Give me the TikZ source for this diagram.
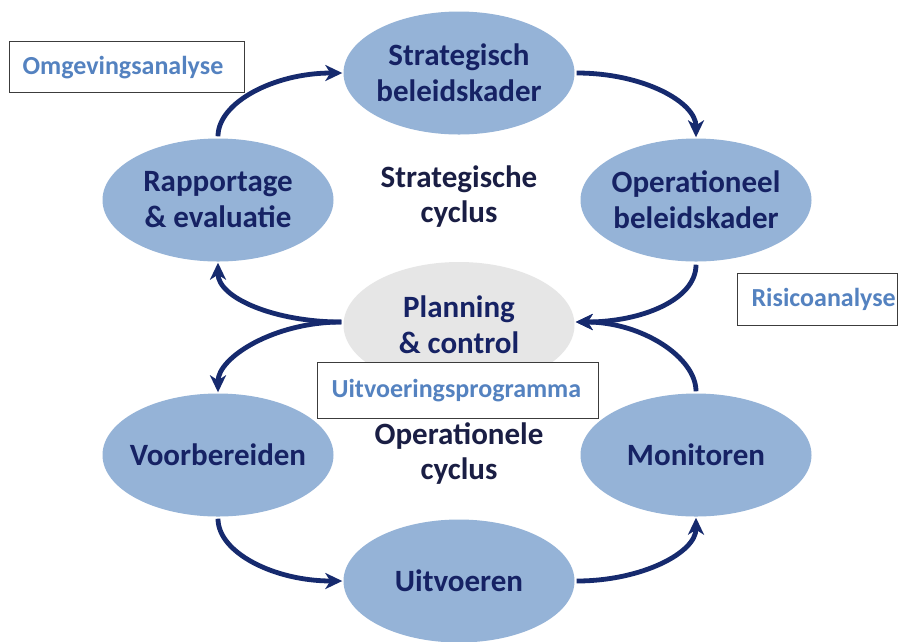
\documentclass[tikz,border=0pt]{standalone}
\usepackage{fontspec}
\setmainfont{Carlito}
\usetikzlibrary{shapes.geometric,arrows.meta}
\definecolor{ellfill}{RGB}{149,179,215}
\definecolor{navytext}{RGB}{22,34,100}
\definecolor{cycletext}{RGB}{26,30,68}
\definecolor{arrowcol}{RGB}{22,42,110}
\definecolor{boxtext}{RGB}{84,130,192}
\definecolor{boxline}{RGB}{60,60,60}
\definecolor{pcfill}{RGB}{230,230,230}
\begin{document}
\begin{tikzpicture}[x=1pt,y=-1pt,
  phase/.style={ellipse, fill=ellfill, minimum width=231pt, minimum height=123pt,
    inner xsep=-25pt, inner ysep=0pt, align=center, text=navytext, font=\fontsize{31}{36}\selectfont\bfseries},
  pcnode/.style={phase, fill=pcfill, minimum height=126pt},
  cyclelabel/.style={align=center, text=cycletext, font=\fontsize{31}{35}\selectfont\bfseries, inner sep=0pt},
  infobox/.style={draw=boxline, line width=1.2pt, fill=white, text=boxtext,
    font=\fontsize{26}{30}\selectfont\bfseries, align=left, anchor=north west},
  flow/.style={draw=arrowcol, line width=4.8pt,
    -{Stealth[length=17pt,width=16pt,inset=5pt]}, shorten <=2pt, shorten >=1pt}
]
\useasboundingbox (0,0) rectangle (899,641);
\fill[white] (0,0) rectangle (899,641);

% phases
\node[phase] (str) at (459,73) {Strategisch\\beleidskader};
\node[phase] (rap) at (218,200) {Rapportage\\\& evaluatie};
\node[phase] (ope) at (696,200) {Operationeel\\beleidskader};
\node[pcnode] (pc) at (459,325) {Planning\\\& control};
\node[phase] (voo) at (218,455) {Voorbereiden};
\node[phase] (mon) at (696,455) {Monitoren};
\node[phase] (uit) at (459,581) {Uitvoeren};

% cycle labels
\node[cyclelabel] (sc) at (459,197) {Strategische\\cyclus};
\node[cyclelabel] (oc) at (459,454) {Operationele\\cyclus};

% info boxes
\node[infobox, minimum width=235pt, minimum height=51pt, text width=209pt, inner xsep=13pt] (omg) at (9,41) {Omgevingsanalyse};
\node[infobox, minimum width=160pt, minimum height=52pt, text width=132pt, inner xsep=14pt] (ris) at (737,273) {Risicoanalyse};
\node[infobox, minimum width=281pt, minimum height=56pt, text width=253pt, inner xsep=14pt] (uvp) at (317,362) {Uitvoeringsprogramma};

% arrows
\draw[flow] (rap.north) .. controls +(0,-36) and +(-69,0) .. (str.west);
\draw[flow] (str.east) .. controls +(69,0) and +(0,-36) .. (ope.north);
\draw[flow] ([yshift=-1pt]ope.south) .. controls +(0,37) and +(67,0) .. ([yshift=3pt]pc.east);
\draw[flow] (mon.north) .. controls +(0,-36) and +(67,0) .. ([yshift=3pt]pc.east);
\draw[flow] ([yshift=3pt]pc.west) .. controls +(-69,0) and +(0,36) .. (rap.south);
\draw[flow] ([yshift=3pt]pc.west) .. controls +(-69,0) and +(0,-36) .. (voo.north);
\draw[flow] (voo.south) .. controls +(0,36) and +(-69,0) .. (uit.west);
\draw[flow] (uit.east) .. controls +(67,0) and +(0,36) .. (mon.south);
\end{tikzpicture}
\end{document}
